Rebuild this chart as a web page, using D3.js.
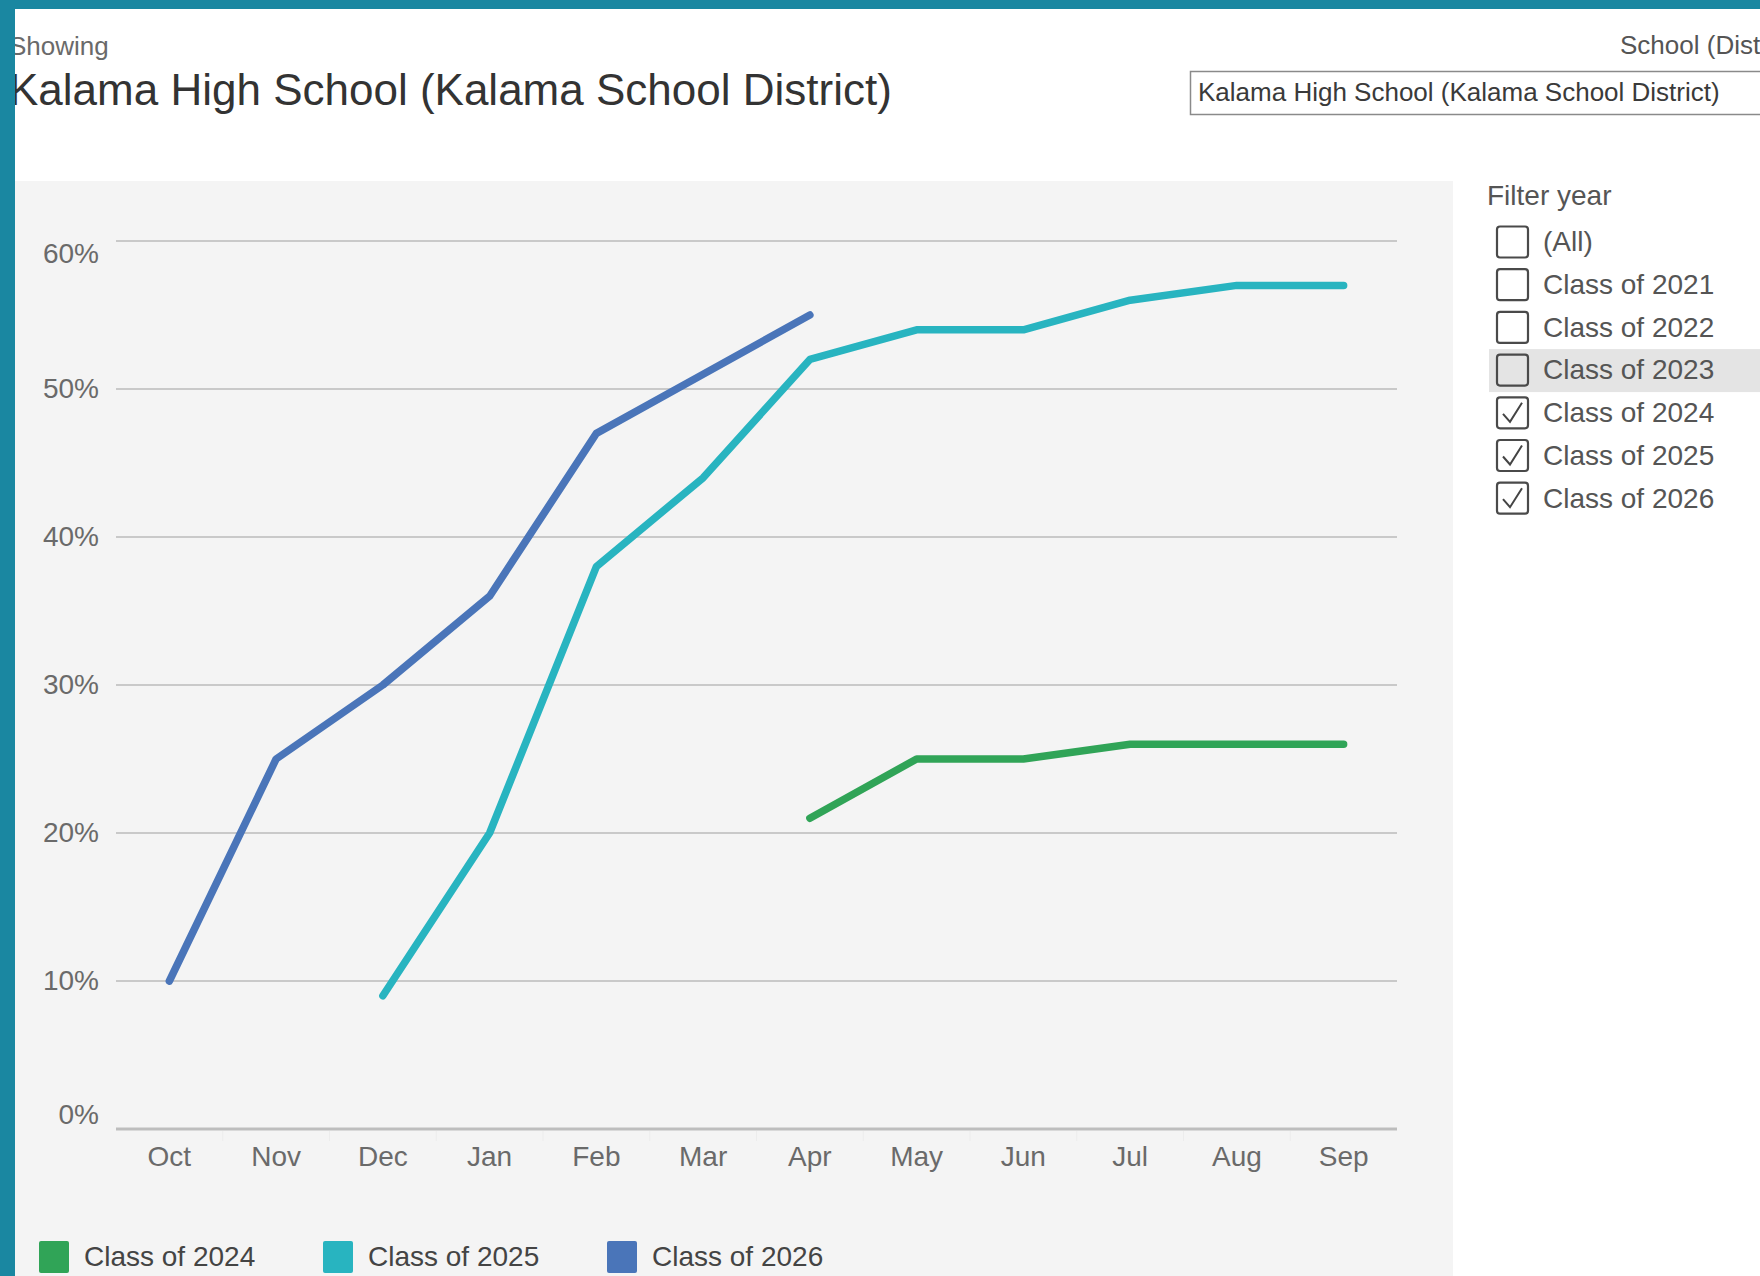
<!DOCTYPE html>
<html>
<head>
<meta charset="utf-8">
<script src="https://cdn.jsdelivr.net/npm/d3@7"></script>
<style>
  html, body { margin: 0; padding: 0; background: #fff; }
  svg { display: block; font-family: "Liberation Sans", Arial, Helvetica, sans-serif; }
</style>
</head>
<body>
<svg id="chart" width="1760" height="1276"></svg>
<script>
// ---- data ----
const months = ["Oct","Nov","Dec","Jan","Feb","Mar","Apr","May","Jun","Jul","Aug","Sep"];
const class2024 = [null,null,null,null,null,null,21,25,25,26,26,26];
const class2025 = [null,null,9,20,38,44,52,54,54,56,57,57];
const class2026 = [10,25,30,36,47,51,55,null,null,null,null,null];
const seriesNames = ["Class of 2024","Class of 2025","Class of 2026"];
const seriesColors = ["#30a457","#28b4c0","#4a75b9"];
const yTicks = [0,10,20,30,40,50,60];
const filterItems = ["(All)","Class of 2021","Class of 2022","Class of 2023","Class of 2024","Class of 2025","Class of 2026"];
const filterChecked = [false,false,false,false,true,true,true];
const titleText = "Kalama High School (Kalama School District)";

const svg = d3.select("#chart");
const W = 1760, H = 1276;

// page frame
svg.append("rect").attr("x",0).attr("y",0).attr("width",W).attr("height",H).attr("fill","#ffffff");
// chart panel background
svg.append("rect").attr("x",15).attr("y",181).attr("width",1438).attr("height",H-181).attr("fill","#f4f4f4");

// scales
const x = d3.scaleBand().domain(months).range([116,1397]).padding(0);
const y = d3.scaleLinear().domain([0,60]).range([1129,241]);

// gridlines
svg.append("g").selectAll("line").data(yTicks.filter(t=>t>0)).join("line")
  .attr("x1",116).attr("x2",1397)
  .attr("y1",d=>y(d)).attr("y2",d=>y(d))
  .attr("stroke","#c9c9c9").attr("stroke-width",2);

// x axis
const xAxis = d3.axisBottom(x).tickSize(0).tickPadding(0);
const gx = svg.append("g").attr("transform",`translate(0,${y(0)})`).call(xAxis);
gx.select(".domain").remove();
gx.selectAll("text").attr("font-size",28).attr("fill","#6a6a6a").attr("dy",null)
  .attr("y",30).attr("dominant-baseline","middle")
  .style("font-family","'Liberation Sans', Arial, sans-serif");
// band separators below axis
svg.append("g").selectAll("line").data(months.slice(1)).join("line")
  .attr("x1",d=>x(d)).attr("x2",d=>x(d))
  .attr("y1",y(0)+2).attr("y2",y(0)+12)
  .attr("stroke","#ececec").attr("stroke-width",1);
// baseline
svg.append("line").attr("x1",116).attr("x2",1397).attr("y1",y(0)).attr("y2",y(0))
  .attr("stroke","#bdbdbd").attr("stroke-width",3);

// y axis labels (Tableau-style: top/bottom nudged inside)
const yAxis = d3.axisLeft(y).tickValues(yTicks).tickSize(0).tickPadding(0).tickFormat(d=>d+"%");
const gy = svg.append("g").attr("transform","translate(99,0)").call(yAxis);
gy.select(".domain").remove();
gy.selectAll("text").attr("font-size",28).attr("fill","#6a6a6a").attr("x",0).attr("dy",null)
  .attr("dominant-baseline","middle")
  .attr("y",d=> d===60 ? 14 : (d===0 ? -13 : 1))
  .style("font-family","'Liberation Sans', Arial, sans-serif");

// lines
const series = [class2024,class2025,class2026];
const line = d3.line()
  .defined(d=>d.v!=null)
  .x(d=>x(d.m)+x.bandwidth()/2)
  .y(d=>y(d.v));
series.forEach((s,i)=>{
  const pts = months.map((m,j)=>({m:m,v:s[j]}));
  svg.append("path").datum(pts).attr("d",line)
    .attr("fill","none").attr("stroke",seriesColors[i]).attr("stroke-width",7.5)
    .attr("stroke-linecap","round").attr("stroke-linejoin","round");
});

// header
svg.append("text").attr("x",9).attr("y",48).attr("font-size",26).attr("fill","#6a6a6a")
  .attr("dominant-baseline","middle").text("Showing");
svg.append("text").attr("x",9).attr("y",93).attr("font-size",44).attr("fill","#333333")
  .attr("dominant-baseline","middle").text(titleText);

svg.append("text").attr("x",1620).attr("y",47).attr("font-size",26).attr("fill","#555555")
  .attr("dominant-baseline","middle").text("School (District)");
svg.append("rect").attr("x",1190.5).attr("y",71.5).attr("width",640).attr("height",43)
  .attr("fill","#ffffff").attr("stroke","#8a8a8a").attr("stroke-width",1.5);
svg.append("text").attr("x",1198).attr("y",94).attr("font-size",26).attr("fill","#3a3a3a")
  .attr("dominant-baseline","middle").text(titleText);

// filter panel
svg.append("text").attr("x",1487).attr("y",198).attr("font-size",28).attr("fill","#555555")
  .attr("dominant-baseline","middle").text("Filter year");
const rowY = i => 242 + i*42.7;
svg.append("rect").attr("x",1489).attr("y",rowY(3)-21).attr("width",W-1489).attr("height",43)
  .attr("fill","#e4e4e4");
const fg = svg.append("g").selectAll("g").data(filterItems).join("g")
  .attr("transform",(d,i)=>`translate(0,${rowY(i)})`);
fg.append("rect").attr("x",1497).attr("y",-15.5).attr("width",31).attr("height",31).attr("rx",3)
  .attr("fill","none").attr("stroke","#4a4a4a").attr("stroke-width",2.2);
fg.filter((d,i)=>filterChecked[filterItems.indexOf(d)]).append("path")
  .attr("d","M1503,1 L1510,9 L1522,-10")
  .attr("fill","none").attr("stroke","#444").attr("stroke-width",2);
fg.append("text").attr("x",1543).attr("y",2).attr("font-size",28).attr("fill","#555555")
  .attr("dominant-baseline","middle").text(d=>d);

// legend
const legX = [39,323,607];
const lg = svg.append("g").selectAll("g").data(seriesNames).join("g")
  .attr("transform",(d,i)=>`translate(${legX[i]},0)`);
lg.append("rect").attr("x",0).attr("y",1241).attr("width",30).attr("height",32).attr("rx",2)
  .attr("fill",(d,i)=>seriesColors[i]);
lg.append("text").attr("x",45).attr("y",1259).attr("font-size",28).attr("fill","#444444")
  .attr("dominant-baseline","middle").text(d=>d);

// teal frame borders
svg.append("rect").attr("x",0).attr("y",0).attr("width",W).attr("height",9).attr("fill","#1a87a1");
svg.append("rect").attr("x",0).attr("y",0).attr("width",15).attr("height",H).attr("fill","#1a87a1");
</script>
</body>
</html>
